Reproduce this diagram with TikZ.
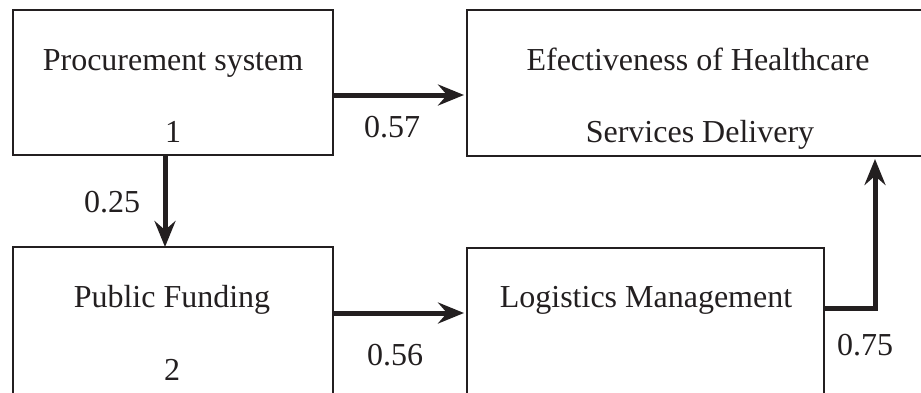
\documentclass[tikz,border=0pt]{standalone}
\usepackage{fontspec}
\setmainfont{Liberation Serif}
\usetikzlibrary{arrows.meta}
\definecolor{ink}{HTML}{231F20}
\begin{document}
\begin{tikzpicture}[x=1pt, y=-1pt,
  box/.style={draw=ink, line width=2pt, inner sep=0pt, outer sep=0pt, anchor=north west},
  txt/.style={anchor=base, inner sep=0pt, text=ink, font=\fontsize{32}{38}\selectfont},
  arr/.style={draw=ink, line width=5pt, shorten >=3pt, miter limit=10,
    -{Stealth[length=26pt, width=21pt, inset=9pt]}}]
  \useasboundingbox (0,0) rectangle (921,392);
  \clip (0,0) rectangle (921,392);

  % boxes
  \node[box, minimum width=320pt, minimum height=145pt] (proc) at (13,10) {};
  \node[box, minimum width=464pt, minimum height=146pt] (eff) at (467,10) {};
  \node[box, minimum width=320pt, minimum height=180pt] (fund) at (13,247) {};
  \node[box, minimum width=357pt, minimum height=180pt] (logi) at (467,248) {};

  % box texts
  \node[txt] (procT) at (173,70) {Procurement system};
  \node[txt] (procN) at (173,142) {1};
  \node[txt] (effT) at (698,70) {Efectiveness of Healthcare};
  \node[txt] (effU) at (700,142) {Services Delivery};
  \node[txt] (fundT) at (172,307) {Public Funding};
  \node[txt] (fundN) at (172,380) {2};
  \node[txt] (logiT) at (646,307) {Logistics Management};

  % connector levels
  \coordinate (rowA) at (0,95);
  \coordinate (rowB) at (0,313);
  \coordinate (colD) at (165,0);
  \coordinate (knee) at (875,308);

  % connectors
  \draw[arr] (proc.east |- rowA) -- (eff.west |- rowA);
  \draw[arr, shorten >=0pt] (proc.south -| colD) -- (fund.north -| colD);
  \draw[arr] (fund.east |- rowB) -- (logi.west |- rowB);
  \draw[arr] (logi.east |- knee) -- (knee) -- (eff.south -| knee);

  % coefficients
  \node[txt] (c57) at (392,137) {0.57};
  \node[txt] (c25) at (112,212) {0.25};
  \node[txt] (c56) at (395,365) {0.56};
  \node[txt] (c75) at (865,355) {0.75};
\end{tikzpicture}
\end{document}
